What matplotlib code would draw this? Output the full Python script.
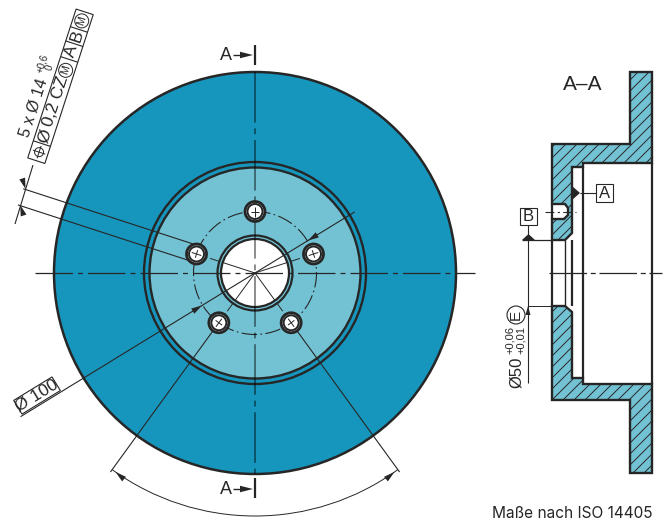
import numpy as np
import matplotlib
matplotlib.use("Agg")
import matplotlib.pyplot as plt
from matplotlib.patches import Circle, Polygon, Rectangle, Arc

INK = "#262626"
DISC_BLUE = "#1796BD"
LIGHT_BLUE = "#73C2D3"
CENTER = (255, 273)

# disc geometry, in pixels
disc_radius = 201
ring_radii = [111, 105.5]
hub_radii = [37.5, 34]
bolt_circle_radius = 61.5
bolt_angles = [90, 162, 234, 306, 18]
hole_radii = [10, 7.5]

# section view outline, pixels
section_top = [(552, 144), (630, 144), (630, 72), (652, 72), (652, 163), (583, 163), (583, 167),
               (572, 167), (572, 233), (565, 240), (552, 240), (552, 219), (564, 219), (568, 215),
               (568, 208), (565, 204), (552, 204)]
section_bottom = [(552, 306), (565, 306), (572, 312), (572, 378), (583, 378), (583, 384), (652, 384),
                  (652, 473), (630, 473), (630, 400), (552, 400)]

fig = plt.figure(figsize=(6.64, 5.22), dpi=100)
ax = fig.add_axes([0, 0, 1, 1])
ax.set_xlim(0, 664)
ax.set_ylim(522, 0)
ax.axis("off")
plt.rcParams["font.family"] = ["Liberation Sans", "DejaVu Sans"]


def polar(r, deg):
    a = np.radians(deg)
    return CENTER[0] + r * np.cos(a), CENTER[1] - r * np.sin(a)


def line(p, q, lw=0.8, color=INK, z=5, **kw):
    ax.plot([p[0], q[0]], [p[1], q[1]], lw=lw, color=color, zorder=z, solid_capstyle="butt", **kw)


def arrow(tip, deg, length=11, width=6, color=INK):
    # deg = screen direction the arrow points to (counterclockwise, y up)
    a = np.radians(deg)
    d = np.array([np.cos(a), -np.sin(a)])
    n = np.array([d[1], -d[0]])
    tip = np.array(tip, float)
    base = tip - d * length
    ax.add_patch(Polygon([tip, base + n * width / 2, base - n * width / 2], fc=color, ec="none", zorder=7))


def label(x, y, s, size=12, rot=0, **kw):
    ax.text(x, y, s, fontsize=size, rotation=rot, rotation_mode="anchor", ha="center", va="center",
            color=INK, zorder=8, **kw)


def hatched(points):
    poly = Polygon(points, closed=True, fc=LIGHT_BLUE, ec="none", zorder=2)
    ax.add_patch(poly)
    for c in np.arange(600, 1200, 11):
        l, = ax.plot([c - 500, c + 100], [500, -100], lw=0.7, color=INK, zorder=3)
        l.set_clip_path(poly)
    ax.add_patch(Polygon(points, closed=True, fc="none", ec=INK, lw=1.7, zorder=4))


# disc
ax.add_patch(Circle(CENTER, disc_radius, fc=DISC_BLUE, ec=INK, lw=1.8, zorder=1))
ax.add_patch(Circle(CENTER, ring_radii[0], fc=DISC_BLUE, ec=INK, lw=1.7, zorder=1.1))
ax.add_patch(Circle(CENTER, ring_radii[1], fc=LIGHT_BLUE, ec=INK, lw=1.7, zorder=1.2))
ax.add_patch(Circle(CENTER, hub_radii[0], fc=LIGHT_BLUE, ec=INK, lw=1.6, zorder=1.3))
ax.add_patch(Circle(CENTER, hub_radii[1], fc="white", ec=INK, lw=1.6, zorder=1.4))
ax.add_patch(Circle(CENTER, bolt_circle_radius, fc="none", ec=INK, lw=0.8, zorder=1.5,
                    linestyle=(0, (14, 3, 1.5, 3))))

# center lines
ax.plot([255, 255], [72, 474], lw=1.4, color="black", alpha=0.45, zorder=1.6, linestyle=(0, (26, 3, 3, 3)))
ax.plot([35, 475], [273, 273], lw=0.9, color=INK, zorder=1.7, linestyle=(0, (30, 4, 4, 4)))

# radial lines from the center to the bolts
for deg in bolt_angles:
    if deg == 90:
        continue
    ax.plot(*zip(polar(0, deg), polar(hub_radii[1], deg)), lw=0.7, color=INK, zorder=1.8)
    ax.plot(*zip(polar(hub_radii[0], deg), polar(bolt_circle_radius, deg)), lw=0.7, color=INK, zorder=1.8,
            linestyle=(0, (10, 3, 2, 3)))

# bolt holes
for deg in bolt_angles:
    c = polar(bolt_circle_radius, deg)
    ax.add_patch(Circle(c, hole_radii[0], fc="#D5E8EC", ec=INK, lw=2.0, zorder=2))
    ax.add_patch(Circle(c, hole_radii[1], fc="white", ec=INK, lw=1.4, zorder=2.1))
    line(polar(bolt_circle_radius - 5, deg), polar(bolt_circle_radius + 5, deg), lw=0.7)
    n = np.array([np.sin(np.radians(deg)), np.cos(np.radians(deg))]) * 4
    line(np.array(c) - n, np.array(c) + n, lw=0.7)

# section-plane marks
for y_bar, y_mid in [(55, 55), (488, 489)]:
    line((255, y_bar - 10), (255, y_bar + 10), lw=1.6)
    line((233, y_mid), (246, y_mid), lw=1.0)
    arrow((253, y_mid), 0, length=13, width=6.5)
    label(226, y_mid + 0.5, "A", size=13)

# bolt hole position: two parallel lines and dimension arrows
hole_c = np.array(polar(bolt_circle_radius, 162))
u = np.array([np.cos(np.radians(162)), -np.sin(np.radians(162))])
v = np.array([np.sin(np.radians(162)), np.cos(np.radians(162))])
for side in (-8.5, 8.5):
    line(hole_c + v * side, hole_c + v * side + u * 185, lw=0.8, z=1.9)
line((15, 224), (33, 165), lw=0.8)
arrow((25.6, 189), -72)
arrow((20.2, 205), 108)

# feature control frame, 72 degrees
fcf_rot = 72
f0 = np.array([36.3, 160.7])
fu = np.array([np.cos(np.radians(fcf_rot)), -np.sin(np.radians(fcf_rot))])
fv = np.array([fu[1], -fu[0]])
fcf_len = 156.5
fcf_half = 9


def fcf(s, t=0.0):
    return f0 + fu * s + fv * t


ax.add_patch(Polygon([fcf(0, fcf_half), fcf(0, -fcf_half), fcf(fcf_len, -fcf_half), fcf(fcf_len, fcf_half)],
                     closed=True, fc="white", ec=INK, lw=0.8, zorder=5))
for s in (18, 106.5, 123, 138):
    line(fcf(s, fcf_half), fcf(s, -fcf_half), lw=0.8)
ax.add_patch(Circle(fcf(9), 4.5, fc="none", ec=INK, lw=0.7, zorder=6))
line(fcf(2.5), fcf(15.5), lw=0.7)
line(fcf(9, 6.5), fcf(9, -6.5), lw=0.7)
for s, txt in [(26, "Ø"), (62, "0,2 CZ"), (115, "A"), (131, "B")]:
    x, y = fcf(s)
    label(x, y, txt, size=12.5, rot=fcf_rot)
for s in (95, 147):
    x, y = fcf(s)
    ax.add_patch(Circle((x, y), 7, fc="none", ec=INK, lw=0.7, zorder=6))
    label(x, y, "M", size=7.5, rot=fcf_rot)
label(33.3, 108, "5 x Ø 14", size=11.5, rot=fcf_rot)
label(42, 63.5, "+0,6", size=7, rot=fcf_rot)
label(49.5, 68, "0", size=7, rot=fcf_rot)

# diameter 100 leader
d100 = 31.5
line(polar(117, d100), polar(-275, d100), lw=0.8, z=2.5)
arrow(polar(62, d100), d100 + 180)
arrow(polar(-62, d100), d100)
a = np.radians(d100)
bu = np.array([np.cos(a), -np.sin(a)])
bv = np.array([bu[1], -bu[0]])
bc = np.array([37.0, 395.5])
ax.add_patch(Polygon([bc + bu * 22.5 + bv * 8, bc + bu * 22.5 - bv * 8, bc - bu * 22.5 - bv * 8,
                      bc - bu * 22.5 + bv * 8], closed=True, fc="white", ec=INK, lw=0.8, zorder=5))
label(bc[0], bc[1], "Ø 100", size=12.5, rot=d100)

# angle dimension
for deg in (234, 306):
    line(polar(bolt_circle_radius, deg), polar(246, deg), lw=0.8, z=1.9)
ax.add_patch(Arc(CENTER, 2 * 243, 2 * 243, theta1=54, theta2=126, lw=0.7, color=INK, zorder=5))
arrow(polar(243, 235), 234 - 90 - 4)
arrow(polar(243, 305), 306 + 90 + 4)

# section view
for x, w in [(552, 1.6), (564.5, 1.0), (572, 1.6)]:
    line((x, 240), (x, 306), lw=w)
line((583, 167), (583, 378), lw=1.6)
line((652, 163), (652, 384), lw=1.6)
line((552, 204), (552, 219), lw=1.6)
ax.plot([545, 576], [212, 212], lw=0.8, color=INK, linestyle=(0, (8, 3, 2, 3)), zorder=5)
ax.plot([549, 662], [273, 273], lw=0.9, color=INK, linestyle=(0, (30, 3, 4, 3)), zorder=5)
hatched(section_top)
hatched(section_bottom)

# datum A
ax.add_patch(Polygon([(572, 186), (572, 200), (580, 193)], fc=INK, ec="none", zorder=7))
line((580, 193), (596, 193), lw=0.8)
ax.add_patch(Rectangle((596, 184), 17, 17.5, fc="white", ec=INK, lw=0.8, zorder=5))
label(604.8, 193, "A", size=12)

# datum B with diameter dimension
ax.add_patch(Rectangle((519.7, 207.7), 17.6, 17.3, fc="white", ec=INK, lw=0.8, zorder=5))
label(528.5, 216.5, "B", size=12)
line((528, 225), (528, 383), lw=0.8)
ax.add_patch(Polygon([(522, 240), (535, 240), (528.5, 234)], fc=INK, ec="none", zorder=7))
line((522, 240), (552, 240), lw=0.9)
line((528, 306), (552, 306), lw=0.7)
arrow((528, 306), 90, length=9, width=5)
label(516.5, 372, "Ø50", size=12, rot=90)
label(509.5, 340, "+0,06", size=8, rot=90)
label(521, 340, "+0,01", size=8, rot=90)
ax.add_patch(Circle((516, 315), 9, fc="white", ec=INK, lw=0.8, zorder=6))
label(516, 315, "E", size=11, rot=90)

label(583, 84, "A–A", size=15)
ax.text(653, 513, "Maße nach ISO 14405", fontsize=11.1, ha="right", va="center", color=INK, family="Inter")

fig.savefig("out.png", dpi=100)
